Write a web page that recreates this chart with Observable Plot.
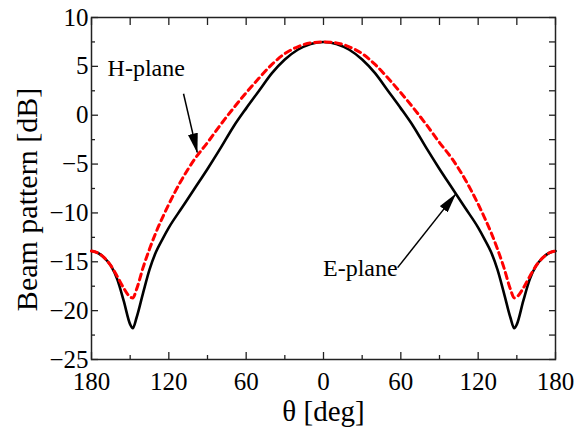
<!DOCTYPE html>
<html>
<head>
<meta charset="utf-8">
<script src="https://cdn.jsdelivr.net/npm/d3@7"></script>
<script src="https://cdn.jsdelivr.net/npm/@observablehq/plot@0.6"></script>
<style>
  html, body { margin: 0; padding: 0; background: #fff; }
  svg text { font-family: "Liberation Serif", "Times New Roman", serif !important; }
</style>
</head>
<body>
<div id="chart"></div>
<script>
// Angle θ in degrees (-180 … 180)
const theta = [-180,-175,-170,-165,-160,-155,-150,-148,-145,-140,-135,-130,-125,-120,-110,-100,-90,-80,-70,-60,-50,-40,-30,-20,-10,
               0,10,20,30,40,50,60,70,80,90,100,110,120,125,130,135,140,145,148,150,155,160,165,170,175,180];
// E-plane (black solid), dB
const ePlane = [-13.9,-14.1,-14.6,-15.4,-16.8,-19.0,-21.4,-21.8,-20.7,-18.2,-15.8,-14.0,-12.7,-11.5,-9.5,-7.5,-5.5,-3.4,-1.2,0.7,2.5,4.3,5.7,6.7,7.3,
                7.5,7.3,6.7,5.7,4.3,2.5,0.7,-1.2,-3.4,-5.5,-7.5,-9.5,-11.5,-12.7,-14.0,-15.8,-18.2,-20.7,-21.8,-21.4,-19.0,-16.8,-15.4,-14.6,-14.1,-13.9];
// H-plane (red dashed), dB
const hPlane = [-13.9,-14.1,-14.6,-15.4,-16.5,-17.7,-18.6,-18.7,-17.8,-15.6,-13.7,-12.0,-10.5,-9.1,-6.6,-4.5,-2.8,-1.0,0.7,2.3,3.8,5.2,6.3,7.0,7.4,
                7.5,7.4,7.0,6.3,5.2,3.8,2.3,0.7,-1.0,-2.8,-4.5,-6.6,-9.1,-10.5,-12.0,-13.7,-15.6,-17.8,-18.7,-18.6,-17.7,-16.5,-15.4,-14.6,-14.1,-13.9];

const xMajorTicks = [-180,-120,-60,0,60,120,180];
const xMinorTicks = [-150,-90,-30,30,90,150];
const yMajorTicks = [-25,-20,-15,-10,-5,0,5,10];
const yMinorTicks = [-22.5,-17.5,-12.5,-7.5,-2.5,2.5,7.5];

// Annotation labels and arrows (data coordinates)
const annoLabels = ["H-plane", "E-plane"];
const annoTextX = [-167.5, 57.5];
const annoTextY = [4.8, -15.7];
const arrowFromX = [-108.6, 57.5];
const arrowFromY = [2.2, -15.6];
const arrowToX = [-98, 102.4];
const arrowToY = [-3.8, -8.1];

const eData = theta.map((t, i) => ({theta: t, dB: ePlane[i]}));
const hData = theta.map((t, i) => ({theta: t, dB: hPlane[i]}));
const annos = annoLabels.map((l, i) => ({
  label: l, tx: annoTextX[i], ty: annoTextY[i],
  x1: arrowFromX[i], y1: arrowFromY[i], x2: arrowToX[i], y2: arrowToY[i]
}));

function filledHead(color, context) {
  const ns = "http://www.w3.org/2000/svg";
  const doc = (context && context.document) || document;
  const m = doc.createElementNS(ns, "marker");
  m.setAttribute("viewBox", "0 -5 20 10");
  m.setAttribute("markerWidth", "20");
  m.setAttribute("markerHeight", "10");
  m.setAttribute("markerUnits", "userSpaceOnUse");
  m.setAttribute("refX", "19");
  m.setAttribute("refY", "0");
  m.setAttribute("orient", "auto");
  const p = doc.createElementNS(ns, "path");
  p.setAttribute("d", "M0,-5L20,0L0,5Z");
  p.setAttribute("fill", color === "currentColor" ? "black" : color);
  p.setAttribute("stroke", "none");
  m.appendChild(p);
  return m;
}

const blank = () => "";
const axisStroke = "#222";
const serif = "Liberation Serif";

const chart = Plot.plot({
  width: 575,
  height: 437,
  marginLeft: 91,
  marginRight: 20,
  marginTop: 17,
  marginBottom: 78,
  style: {fontFamily: serif, background: "#fff", color: "#000"},
  x: {domain: [-180, 180]},
  y: {domain: [-25, 10]},
  marks: [
    // tick labels
    Plot.axisX(xMajorTicks, {anchor: "bottom", tickSize: 0, tickPadding: 13, tickFormat: d => Math.abs(d), fontSize: 25, fontFamily: serif, fontVariant: "normal", label: null}),
    Plot.axisY(yMajorTicks, {anchor: "left", tickSize: 0, tickPadding: 3, fontSize: 25, fontFamily: serif, fontVariant: "normal", label: null}),
    // inward ticks
    Plot.axisX(xMajorTicks, {anchor: "bottom", tickSize: -7, tickFormat: blank, label: null, stroke: axisStroke, strokeWidth: 1.3}),
    Plot.axisX(xMinorTicks, {anchor: "bottom", tickSize: -4, tickFormat: blank, label: null, stroke: axisStroke, strokeWidth: 1.3}),
    Plot.axisX(xMajorTicks.concat(xMinorTicks), {anchor: "top", tickSize: -7, tickFormat: blank, label: null, stroke: axisStroke, strokeWidth: 1.3}),
    Plot.axisY(yMajorTicks, {anchor: "left", tickSize: -7, tickFormat: blank, label: null, stroke: axisStroke, strokeWidth: 1.3}),
    Plot.axisY(yMinorTicks, {anchor: "left", tickSize: -4, tickFormat: blank, label: null, stroke: axisStroke, strokeWidth: 1.3}),
    Plot.axisY(yMajorTicks.concat(yMinorTicks), {anchor: "right", tickSize: -7, tickFormat: blank, label: null, stroke: axisStroke, strokeWidth: 1.3}),
    Plot.frame({stroke: axisStroke, strokeWidth: 1.5}),
    // axis titles
    Plot.text(["θ [deg]"], {frameAnchor: "bottom", dy: 61, text: d => d, fontSize: 29, fontFamily: serif}),
    Plot.text(["Beam pattern [dB]"], {frameAnchor: "left", textAnchor: "middle", dx: -64, dy: 11, rotate: -90, text: d => d, fontSize: 30, fontFamily: serif}),
    // curves
    Plot.line(eData, {x: "theta", y: "dB", stroke: "black", strokeWidth: 2.6, curve: "monotone-x"}),
    Plot.line(hData, {x: "theta", y: "dB", stroke: "#ff0000", strokeWidth: 3, strokeDasharray: "6,4.5", curve: "monotone-x"}),
    // annotations
    Plot.link(annos, {x1: "x1", y1: "y1", x2: "x2", y2: "y2", stroke: "black", strokeWidth: 1.5, markerEnd: filledHead}),
    Plot.text(annos.slice(0, 1), {x: "tx", y: "ty", text: "label", textAnchor: "start", fontSize: 24, fontFamily: serif, fill: "black"}),
    Plot.text(annos.slice(1), {x: "tx", y: "ty", text: "label", textAnchor: "end", fontSize: 24, fontFamily: serif, fill: "black"})
  ]
});
document.getElementById("chart").appendChild(chart);
</script>
</body>
</html>
